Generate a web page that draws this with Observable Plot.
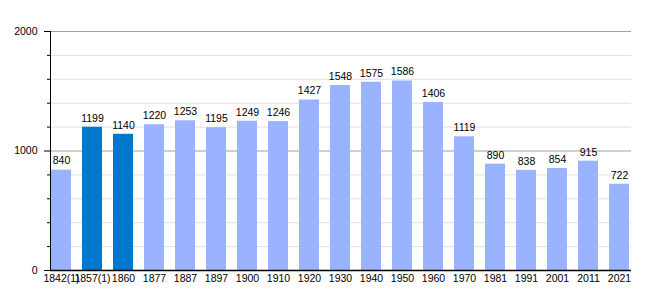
<!DOCTYPE html>
<html>
<head>
<meta charset="utf-8">
<script src="https://cdn.jsdelivr.net/npm/d3@7"></script>
<script src="https://cdn.jsdelivr.net/npm/@observablehq/plot@0.6"></script>
<style>
  html, body { margin: 0; padding: 0; background: #fff; }
  svg { display: block; }
</style>
</head>
<body>
<div id="chart"></div>
<script>
const years = ["1842(1)", "1857(1)", "1860", "1877", "1887", "1897", "1900", "1910", "1920", "1930", "1940", "1950", "1960", "1970", "1981", "1991", "2001", "2011", "2021"];
const population = [840, 1199, 1140, 1220, 1253, 1195, 1249, 1246, 1427, 1548, 1575, 1586, 1406, 1119, 890, 838, 854, 915, 722];
const highlighted = ["1857(1)", "1860"];
const majorTicks = [0, 1000, 2000];
const minorTicks = [200, 400, 600, 800, 1200, 1400, 1600, 1800];

const data = years.map((y, i) => ({year: y, value: population[i], hi: highlighted.includes(y)}));

const chart = Plot.plot({
  width: 660,
  height: 300,
  marginLeft: 50,
  marginRight: 29,
  marginTop: 31,
  marginBottom: 30,
  style: {fontFamily: "'Liberation Sans', Arial, sans-serif", fontSize: "10px", color: "#000", background: "#fff"},
  x: {domain: years, paddingInner: 0.34, paddingOuter: 0, label: null},
  y: {domain: [0, 2000], label: null},
  marks: [
    Plot.ruleY(minorTicks, {stroke: "#e0e0e0", strokeWidth: 1}),
    Plot.ruleY([1000, 2000], {stroke: "#a0a0a0", strokeWidth: 1}),
    Plot.barY(data, {x: "year", y: "value", fill: d => d.hi ? "#0079cc" : "#99b3ff"}),
    Plot.text(data, {x: "year", y: "value", text: d => String(d.value), dy: -9, fontSize: 10.5, fill: "#000"}),
    Plot.axisY({ticks: minorTicks, tickSize: 3, tickFormat: () => "", stroke: "#000"}),
    Plot.axisY({ticks: majorTicks, tickSize: 6, tickPadding: 7, tickFormat: d => String(d), fontSize: 10.5, stroke: "#000"}),
    Plot.axisX({tickSize: 0, tickPadding: 4, fontSize: 10.5}),
    Plot.frame({anchor: "left", stroke: "#000"}),
    Plot.ruleY([0], {stroke: "#000", strokeWidth: 1.5})
  ]
});
document.getElementById("chart").appendChild(chart);
</script>
</body>
</html>
